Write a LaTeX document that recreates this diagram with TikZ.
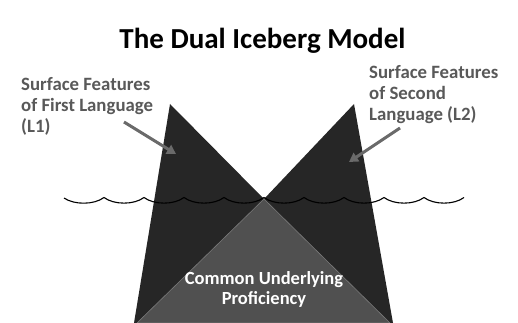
\documentclass[tikz,border=0pt]{standalone}
\usepackage{fontspec}
\setmainfont{Carlito}
\usetikzlibrary{arrows.meta}
\definecolor{berg}{HTML}{262626}
\definecolor{cup}{HTML}{505050}
\definecolor{cupedge}{HTML}{7A7A7A}
\definecolor{labelgray}{HTML}{595959}
\definecolor{arrowgray}{HTML}{6A6A6A}
\tikzset{
  lbl/.style={font=\fontsize{18.8}{21.3}\selectfont\bfseries, text=labelgray, align=left, inner sep=0pt, anchor=north west},
  pointer/.style={draw=arrowgray, line width=3pt, -{Triangle[length=9pt,width=10pt]}},
  wave/.style={draw=black, line width=1.1pt},
}
\begin{document}
\begin{tikzpicture}[x=1pt,y=-1pt]
\useasboundingbox (0,0) rectangle (518,323);
\fill[white] (0,0) rectangle (518,323);
% icebergs
\coordinate (mid) at (264,199);
\fill[berg] (170,104) -- (mid) -- (264,323) -- (134,323) -- cycle;
\fill[berg] (354,104) -- (393,323) -- (264,323) -- (mid) -- cycle;
\filldraw[fill=cup, draw=cupedge, line width=0.6pt] (mid) -- (390,323) -- (137,323) -- cycle;
% waves
\draw[wave] (64,198)
  \foreach \k in {0,...,9}{
    .. controls ({64+40*\k+10},205) and ({64+40*\k+30},205) .. ({64+40*\k+40},197.5)
  };
% title
\node[font=\fontsize{29}{35}\selectfont\bfseries, anchor=base] (title) at (262.5,49) {The Dual Iceberg Model};
% labels
\node[lbl] (l1) at (21,77) {Surface Features\\of First Language\\(L1)};
\node[lbl] (l2) at (369,65) {Surface Features\\of Second\\Language (L2)};
\node[font=\fontsize{18.5}{20}\selectfont\bfseries, text=white, align=center, inner sep=0pt] (cupt) at (264,289.5) {Common Underlying\\Proficiency};
% arrows
\coordinate (a1s) at (124,122);
\coordinate (a1e) at (176,154);
\coordinate (a2s) at (400,128);
\coordinate (a2e) at (349,162);
\draw[pointer] (a1s) -- (a1e);
\draw[pointer] (a2s) -- (a2e);
\end{tikzpicture}
\end{document}
